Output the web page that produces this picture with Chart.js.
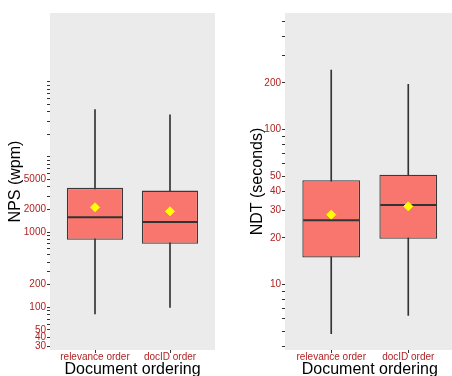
<!DOCTYPE html>
<html>
<head>
<meta charset="utf-8">
<script src="https://cdn.jsdelivr.net/npm/chart.js@4/dist/chart.umd.min.js"></script>
<style>
  html, body { margin: 0; padding: 0; background: #ffffff; }
  body { width: 452px; height: 376px; overflow: hidden; position: relative; }
  .panel { position: absolute; top: 0; }
</style>
</head>
<body>
<div class="panel" style="left:0px"><canvas id="nps" width="230" height="380"></canvas></div>
<div class="panel" style="left:230px"><canvas id="ndt" width="230" height="380"></canvas></div>
<script>
// Orderings compared on the x axis
const categories = ['relevance order', 'docID order'];

// NPS (words per minute) box statistics, one value per ordering
const npsLow    = [82, 100];
const npsQ1     = [790, 700];
const npsMedian = [1577, 1368];
const npsQ3     = [3880, 3570];
const npsHigh   = [42600, 36200];
const npsMean   = [2140, 1892];

// NDT (seconds) box statistics, one value per ordering
const ndtLow    = [4.8, 6.3];
const ndtQ1     = [14.9, 19.7];
const ndtMedian = [25.9, 32.6];
const ndtQ3     = [47, 51];
const ndtHigh   = [242, 196];
const ndtMean   = [28.2, 31.9];

// Log-axis tick values: labelled and unlabelled marks
const npsLabelled   = [30, 40, 50, 100, 200, 1000, 2000, 5000];
const npsUnlabelled = [60, 70, 80, 90, 300, 400, 500, 600, 700, 800, 900, 3000, 4000,
                       6000, 7000, 8000, 9000, 10000, 20000, 30000, 40000, 50000,
                       60000, 70000, 80000, 90000, 100000];
const ndtLabelled   = [10, 20, 30, 40, 50, 100, 200];
const ndtUnlabelled = [4, 5, 6, 7, 8, 9, 60, 70, 80, 90, 300, 400, 500];

const FONT = "'Liberation Sans', Arial, Helvetica, sans-serif";
const BOX_FILL = '#F8766D';
const INK = '#333333';
const LABEL_RED = '#B22222';

const panelBg = {
  id: 'panelBg',
  beforeDraw(chart) {
    const { ctx, chartArea: a } = chart;
    ctx.save();
    ctx.fillStyle = '#EBEBEB';
    ctx.fillRect(a.left, a.top, a.right - a.left, a.bottom - a.top);
    ctx.restore();
  }
};

function xy(values) {
  return values.map((v, i) => ({ x: i + 1, y: v }));
}
function range(lo, hi) {
  return lo.map((v, i) => ({ x: i + 1, y: [v, hi[i]] }));
}

function boxChart(id, s, opt) {
  const allTicks = opt.labelled.concat(opt.unlabelled).sort((a, b) => a - b);
  const labelledSet = new Set(opt.labelled);
  return new Chart(document.getElementById(id), {
    type: 'bar',
    data: {
      datasets: [
        {
          type: 'line', label: 'mean', data: xy(s.mean), showLine: false,
          pointStyle: 'rectRot', pointRadius: 4.5, pointBackgroundColor: '#FFFF00',
          pointBorderColor: '#FFFF00', pointBorderWidth: 1, order: 0
        },
        {
          type: 'line', label: 'median', data: xy(s.median), showLine: false,
          pointStyle: 'line', pointRadius: 28, pointBorderColor: INK,
          pointBorderWidth: 2, order: 1
        },
        {
          label: 'box', data: range(s.q1, s.q3), grouped: false,
          backgroundColor: BOX_FILL, borderColor: '#3a3a3a', borderWidth: 1.3,
          borderSkipped: false, categoryPercentage: 0.75, barPercentage: 1, order: 2
        },
        {
          label: 'whisker', data: range(s.low, s.high), grouped: false,
          backgroundColor: INK, borderWidth: 0, barThickness: 1, order: 3
        }
      ]
    },
    options: {
      responsive: false,
      animation: false,
      devicePixelRatio: 1,
      layout: { autoPadding: false, padding: { top: 13, right: opt.padRight, left: 0, bottom: 0 } },
      plugins: { legend: { display: false }, tooltip: { enabled: false } },
      events: [],
      scales: {
        x: {
          type: 'linear', min: 0.4, max: 2.6, bounds: 'data', offset: false,
          afterFit: sc => { sc.height = 30; },
          afterBuildTicks: sc => { sc.ticks = [{ value: 1 }, { value: 2 }]; },
          border: { display: false },
          grid: { offset: false, drawOnChartArea: false, drawTicks: true, tickLength: 3, color: INK },
          ticks: {
            autoSkip: false, maxRotation: 0, padding: 0, color: LABEL_RED,
            font: { family: FONT, size: 10, lineHeight: 0.8 },
            callback: v => categories[v - 1]
          },
          title: {
            display: true, text: 'Document ordering', color: '#000000',
            font: { family: FONT, size: 16, lineHeight: 1 },
            padding: { top: 0, bottom: 2.5 }
          }
        },
        y: {
          type: 'logarithmic', min: opt.min, max: opt.max, bounds: 'data',
          afterFit: sc => { sc.width = opt.axisWidth; },
          afterBuildTicks: sc => { sc.ticks = allTicks.map(v => ({ value: v })); },
          border: { display: false },
          grid: { drawOnChartArea: false, drawTicks: true, tickLength: 3, color: INK },
          ticks: {
            autoSkip: false, padding: 1, color: LABEL_RED,
            font: { family: FONT, size: 10 },
            callback: v => (labelledSet.has(v) ? String(v) : '')
          },
          title: {
            display: true, text: opt.title, color: '#000000',
            font: { family: FONT, size: 16, lineHeight: 1 },
            padding: { top: opt.titlePad, bottom: 0 }
          }
        }
      }
    },
    plugins: [panelBg]
  });
}

boxChart('nps',
  { low: npsLow, q1: npsQ1, median: npsMedian, q3: npsQ3, high: npsHigh, mean: npsMean },
  { labelled: npsLabelled, unlabelled: npsUnlabelled, min: 27.1, max: 820000,
    title: 'NPS (wpm)', axisWidth: 50, padRight: 15, titlePad: 8 });

boxChart('ndt',
  { low: ndtLow, q1: ndtQ1, median: ndtMedian, q3: ndtQ3, high: ndtHigh, mean: ndtMean },
  { labelled: ndtLabelled, unlabelled: ndtUnlabelled, min: 3.77, max: 565,
    title: 'NDT (seconds)', axisWidth: 55, padRight: 5.5, titlePad: 20 });
</script>
</body>
</html>
